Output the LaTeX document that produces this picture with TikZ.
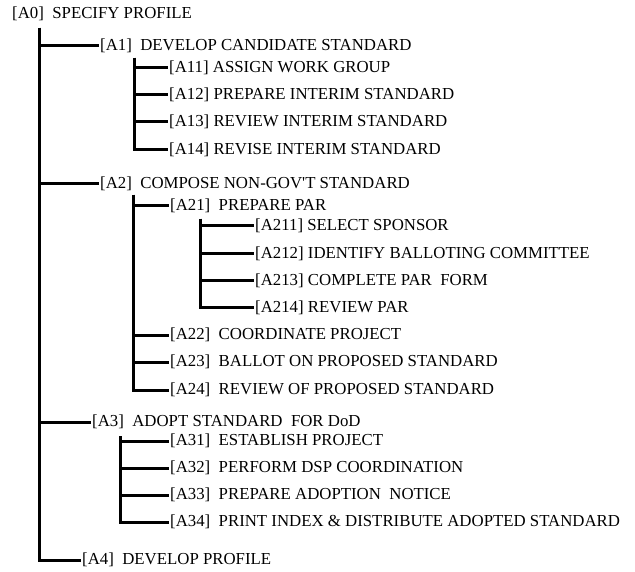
\documentclass[tikz,border=0pt]{standalone}
\usepackage{fontspec}
\setmainfont{Liberation Serif}
\usepackage{tikz}
\usetikzlibrary{calc}
\tikzstyle{every node}=[font=\fontsize{16.8}{18}\selectfont,anchor=west,inner sep=1pt]
\tikzstyle{branch}=[line width=3pt,line cap=butt,line join=miter]

\begin{document}
\begin{tikzpicture}[x=1pt,y=-1pt]
                    \useasboundingbox (0,0) rectangle (635,572);
                    % top level
                    \node (a0) at (11,14) {[A0]\ \ SPECIFY PROFILE};
                    \node (a1) at (99,46) {[A1]\ \ DEVELOP CANDIDATE STANDARD};
                    \node (a2) at (99,184) {[A2]\ \ COMPOSE NON-GOV\textquotesingle T STANDARD};
                    \node (a3) at (91,422) {[A3]\ \ ADOPT STANDARD\ \ FOR DoD};
                    \node (a4) at (81,560) {[A4]\ \ DEVELOP PROFILE};
                    % A1
                    \node (a11) at (168,68) {[A11] ASSIGN WORK GROUP};
                    \node (a12) at (168,95) {[A12] PREPARE INTERIM STANDARD};
                    \node (a13) at (168,122) {[A13] REVIEW INTERIM STANDARD};
                    \node (a14) at (168,150) {[A14] REVISE INTERIM STANDARD};
                    % A2
                    \node (a21) at (169,206) {[A21]\ \ PREPARE PAR};
                    \node (a211) at (254,226) {[A211] SELECT SPONSOR};
                    \node (a212) at (254,254) {[A212] IDENTIFY BALLOTING COMMITTEE};
                    \node (a213) at (254,281) {[A213] COMPLETE PAR\ \ FORM};
                    \node (a214) at (254,308) {[A214] REVIEW PAR};
                    \node (a22) at (169,335) {[A22]\ \ COORDINATE PROJECT};
                    \node (a23) at (169,362) {[A23]\ \ BALLOT ON PROPOSED STANDARD};
                    \node (a24) at (169,390) {[A24]\ \ REVIEW OF PROPOSED STANDARD};
                    % A3
                    \node (a31) at (169,441) {[A31]\ \ ESTABLISH PROJECT};
                    \node (a32) at (169,468) {[A32]\ \ PERFORM DSP COORDINATION};
                    \node (a33) at (169,495) {[A33]\ \ PREPARE ADOPTION\ \ NOTICE};
                    \node (a34) at (169,522) {[A34]\ \ PRINT INDEX \& DISTRIBUTE ADOPTED STANDARD};
                    % stems
                    \coordinate (s0) at (39,28);
                    \coordinate (s1) at (134,58);
                    \coordinate (s2) at (133,195);
                    \coordinate (s21) at (200,219);
                    \coordinate (s3) at (120,436);
                    \draw [branch] (s0) |- (a1.west);
                    \draw [branch] (s0) |- (a2.west);
                    \draw [branch] (s0) |- (a3.west);
                    \draw [branch] (s0) |- (a4.west);
                    \draw [branch] (s1) |- (a11.west);
                    \draw [branch] (s1) |- (a12.west);
                    \draw [branch] (s1) |- (a13.west);
                    \draw [branch] (s1) |- (a14.west);
                    \draw [branch] (s2) |- (a21.west);
                    \draw [branch] (s2) |- (a22.west);
                    \draw [branch] (s2) |- (a23.west);
                    \draw [branch] (s2) |- (a24.west);
                    \draw [branch] (s21) |- (a211.west);
                    \draw [branch] (s21) |- (a212.west);
                    \draw [branch] (s21) |- (a213.west);
                    \draw [branch] (s21) |- (a214.west);
                    \draw [branch] (s3) |- (a31.west);
                    \draw [branch] (s3) |- (a32.west);
                    \draw [branch] (s3) |- (a33.west);
                    \draw [branch] (s3) |- (a34.west);
                    \end{tikzpicture}
\end{document}
